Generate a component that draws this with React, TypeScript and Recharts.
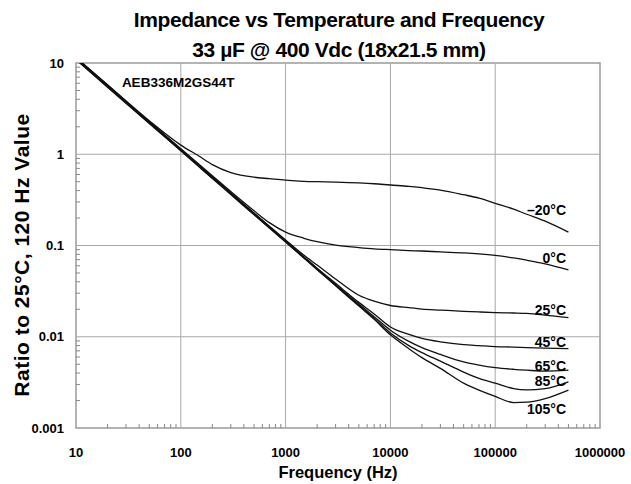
import React from 'react';
import {
  LineChart,
  Line,
  XAxis,
  YAxis,
  ReferenceLine,
  ReferenceArea,
  ReferenceDot,
} from 'recharts';

// frequency points (Hz) shared by every curve
const freqs = [
  10, 20, 50, 100, 150, 200, 300, 500, 700, 1000, 1500, 2000, 3000, 5000, 7000,
  10000, 15000, 20000, 30000, 50000, 70000, 100000, 150000, 200000, 300000, 500000,
];

// impedance ratio per temperature
const zM20 = [
  11.5, 5.77, 2.33, 1.26, 0.95, 0.77, 0.63, 0.56, 0.54, 0.52, 0.505, 0.5, 0.495, 0.485, 0.475,
  0.46, 0.445, 0.43, 0.405, 0.36, 0.33, 0.29, 0.25, 0.22, 0.185, 0.14,
];
const z0 = [
  11.4, 5.71, 2.28, 1.15, 0.77, 0.58, 0.39, 0.24, 0.178, 0.14, 0.12, 0.11, 0.101, 0.095, 0.092,
  0.09, 0.088, 0.087, 0.085, 0.083, 0.081, 0.078, 0.073, 0.069, 0.063, 0.054,
];
const z25 = [
  11.3, 5.66, 2.26, 1.13, 0.755, 0.566, 0.377, 0.227, 0.163, 0.115, 0.078, 0.061, 0.043, 0.0285, 0.0245,
  0.022, 0.0208, 0.0201, 0.0196, 0.019, 0.0187, 0.0184, 0.0182, 0.018, 0.0173, 0.0162,
];
const z45 = [
  11.2, 5.6, 2.24, 1.12, 0.747, 0.56, 0.373, 0.224, 0.16, 0.112, 0.075, 0.0565, 0.0385, 0.0238, 0.0178,
  0.0128, 0.0106, 0.0096, 0.0088, 0.0082, 0.008, 0.0078, 0.0077, 0.0076, 0.0075, 0.0074,
];
const z65 = [
  11.1, 5.54, 2.22, 1.11, 0.74, 0.554, 0.37, 0.222, 0.158, 0.111, 0.074, 0.0555, 0.0372, 0.0228, 0.0166,
  0.0118, 0.0089, 0.0076, 0.0064, 0.0053, 0.0049, 0.0046, 0.0044, 0.0043, 0.0042, 0.0043,
];
const z85 = [
  11.0, 5.49, 2.2, 1.1, 0.732, 0.549, 0.366, 0.22, 0.157, 0.11, 0.0732, 0.0549, 0.0366, 0.0221, 0.016,
  0.011, 0.008, 0.0067, 0.0054, 0.0041, 0.0035, 0.0031, 0.0027, 0.00262, 0.0027, 0.0032,
];
const z105 = [
  10.9, 5.43, 2.17, 1.09, 0.725, 0.543, 0.362, 0.217, 0.155, 0.109, 0.0725, 0.0543, 0.0362, 0.0217, 0.0155,
  0.0105, 0.0074, 0.0059, 0.0045, 0.0031, 0.0026, 0.00222, 0.0019, 0.00192, 0.0021, 0.0026,
];

const seriesKeys = ['m20', 'z0', 'z25', 'z45', 'z65', 'z85', 'z105'];
const seriesValues = [zM20, z0, z25, z45, z65, z85, z105];

// curve labels: text, anchor frequency (right end), ratio (vertical centre)
const curveLabels = [
  { text: '\u201320\u00b0C', f: 474000, z: 0.243 },
  { text: '0\u00b0C', f: 474000, z: 0.072 },
  { text: '25\u00b0C', f: 474000, z: 0.0198 },
  { text: '45\u00b0C', f: 474000, z: 0.0088 },
  { text: '65\u00b0C', f: 474000, z: 0.0048 },
  { text: '85\u00b0C', f: 474000, z: 0.00328 },
  { text: '105\u00b0C', f: 474000, z: 0.00162 },
];

const xDecades = [10, 100, 1000, 10000, 100000, 1000000];
const yDecades = [0.001, 0.01, 0.1, 1, 10];

const minorSteps = [1, 2, 3, 4, 5, 6, 7, 8, 9];
const xTicks = [
  ...xDecades.slice(0, -1).flatMap((d) => minorSteps.map((k) => k * d)),
  1000000,
];
const yTicks = [
  ...yDecades.slice(0, -1).flatMap((d) => minorSteps.map((k) => +(k * d).toPrecision(3))),
  10,
];

const rows = freqs.map((f, i) => {
  const row: Record<string, number> = { f };
  seriesKeys.forEach((k, j) => {
    row[k] = seriesValues[j][i];
  });
  return row;
});

const isDecade = (v: number) => Math.abs(Math.log10(v) - Math.round(Math.log10(v))) < 1e-6;

const FONT = '"Liberation Sans", Arial, sans-serif';
const GRID = '#a8a8a8';

function XTick(props: any) {
  const { x, y, payload } = props;
  const v = payload.value;
  if (isDecade(v)) {
    return (
      <text x={x} y={y + 24} textAnchor="middle" dominantBaseline="central"
        fontSize={13} fontWeight="bold" fill="#000" fontFamily={FONT}>
        {String(v)}
      </text>
    );
  }
  return <line x1={x} x2={x} y1={y} y2={y - 4} stroke="#888" strokeWidth={1} />;
}

function YTick(props: any) {
  const { x, y, payload } = props;
  const v = payload.value;
  if (isDecade(v)) {
    return (
      <text x={x - 12} y={y} textAnchor="end" dominantBaseline="central"
        fontSize={13} fontWeight="bold" fill="#000" fontFamily={FONT}>
        {String(v)}
      </text>
    );
  }
  return <line x1={x} x2={x + 4} y1={y} y2={y} stroke="#888" strokeWidth={1} />;
}

const titleStyle: React.CSSProperties = {
  position: 'absolute',
  left: 0,
  width: 678,
  textAlign: 'center',
  fontSize: 21,
  fontWeight: 'bold',
  lineHeight: '26px',
  letterSpacing: -0.4,
  whiteSpace: 'nowrap',
};

export default function App() {
  return (
    <div style={{ position: 'absolute', left: 0, top: 0, width: 631, height: 484, background: '#fff', fontFamily: FONT }}>
      <div style={{ ...titleStyle, top: 7 }}>Impedance vs Temperature and Frequency</div>
      <div style={{ ...titleStyle, top: 37 }}>33 µF @ 400 Vdc (18x21.5 mm)</div>

      <LineChart width={631} height={484} data={rows}
        margin={{ top: 63, right: 31, bottom: 0, left: 16 }}>
        <XAxis dataKey="f" type="number" scale="log" domain={[10, 1000000]} allowDataOverflow
          ticks={xTicks} interval={0} tick={<XTick />} tickLine={false} axisLine={false}
          tickSize={0} tickMargin={0} height={56} />
        <YAxis type="number" scale="log" domain={[0.001, 10]} allowDataOverflow
          ticks={yTicks} interval={0} tick={<YTick />} tickLine={false} axisLine={false}
          tickSize={0} tickMargin={0} width={60} />

        {xDecades.slice(1, -1).map((v) => (
          <ReferenceLine key={'gx' + v} x={v} stroke={GRID} strokeWidth={1} />
        ))}
        {yDecades.slice(1, -1).map((v) => (
          <ReferenceLine key={'gy' + v} y={v} stroke={GRID} strokeWidth={1} />
        ))}
        <ReferenceArea x1={10} x2={1000000} y1={0.001} y2={10} fill="none" fillOpacity={0}
          stroke="#9a9a9a" strokeWidth={1.5} />

        {seriesKeys.map((k) => (
          <Line key={k} dataKey={k} type="monotone" stroke="#111" strokeWidth={1.3}
            dot={false} isAnimationActive={false} />
        ))}

        {curveLabels.map((l) => (
          <ReferenceDot key={l.text} x={l.f} y={l.z} r={0} stroke="none" fill="none"
            label={{ value: l.text, position: 'left', offset: 0, fill: '#000', fontSize: 14, fontWeight: 'bold', fontFamily: FONT }} />
        ))}
        <ReferenceDot x={27.4} y={6.18} r={0} stroke="none" fill="none"
          label={{ value: 'AEB336M2GS44T', position: 'right', offset: 0, fill: '#000', fontSize: 13.5, fontWeight: 'bold', fontFamily: FONT }} />
      </LineChart>

      <div style={{ position: 'absolute', left: 272, width: 132, top: 461, textAlign: 'center', fontSize: 16.5, fontWeight: 'bold', lineHeight: '22px', whiteSpace: 'nowrap' }}>
        Frequency (Hz)
      </div>
      <div style={{ position: 'absolute', left: 22, top: 255, transform: 'translate(-50%, -50%) rotate(-90deg)', fontSize: 21, letterSpacing: 0.5, fontWeight: 'bold', whiteSpace: 'nowrap', lineHeight: '24px' }}>
        Ratio to 25°C, 120 Hz Value
      </div>
    </div>
  );
}
